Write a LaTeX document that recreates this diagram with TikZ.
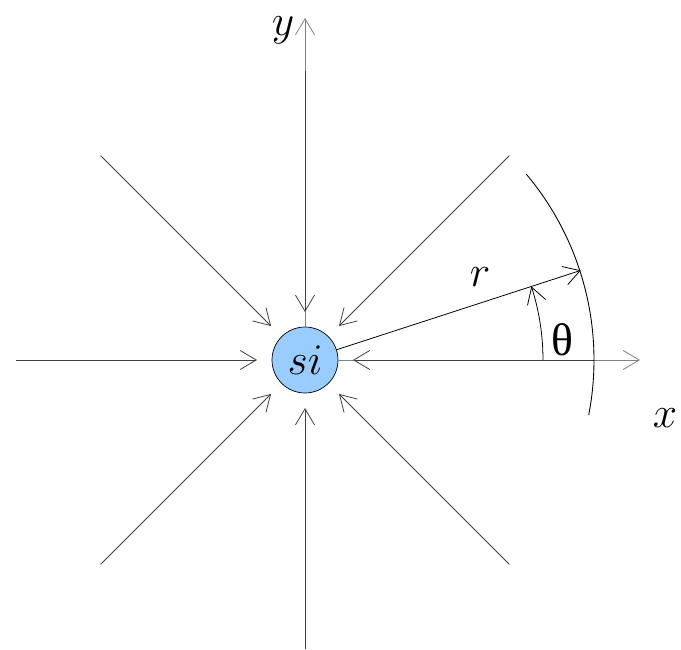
\documentclass[tikz,border=0pt]{standalone}
\usepackage{fontspec}
\newfontfamily\greekfont{Liberation Serif}
\usetikzlibrary{arrows.meta}

\tikzset{
  inarrow/.style={-{Straight Barb[length=3.2mm,width=3.8mm]}, line width=0.45pt, black!75},
  axisline/.style={-{Straight Barb[length=3.2mm,width=3.8mm]}, line width=0.45pt, black!50},
}

\begin{document}
\begin{tikzpicture}[x=0.02cm, y=0.02cm, every node/.style={font=\fontsize{26}{30}\selectfont}]
  \useasboundingbox (-305,-290) rectangle (376,360);

  % Central charge
  \node[circle, draw, fill={rgb,255:red,153;green,204;blue,255}, minimum size=1.32cm, inner sep=0pt] (si) at (0,0) {$si$};

  % Axes
  \coordinate (ytip) at (0,342);
  \coordinate (xtip) at (335,0);
  \draw[axisline] (si.north) -- (ytip);
  \draw[axisline] (si.east) -- (xtip);
  \node (ylab) at (-22,330) {$y$};
  \node (xlab) at (360,-58) {$x$};

  % Field lines pointing inwards
  \foreach \a in {0,45,...,315} {
    \coordinate (out\a) at (\a:289);
    \coordinate (in\a) at (\a:48);
    \draw[inarrow] (out\a) -- (in\a);
  }

  % Radius and arc
  \coordinate (rtip) at (18:290);
  \draw[inarrow, black] (si.18) -- (rtip);
  \node (rlab) at (175,83) {$r$};
  \draw[line width=0.5pt] (-11:289) arc (-11:40:289);

  % Angle
  \draw[inarrow, black] (0:238) arc (0:18:238);
  \node (thlab) at (257,20) {\greekfont θ};
\end{tikzpicture}
\end{document}
